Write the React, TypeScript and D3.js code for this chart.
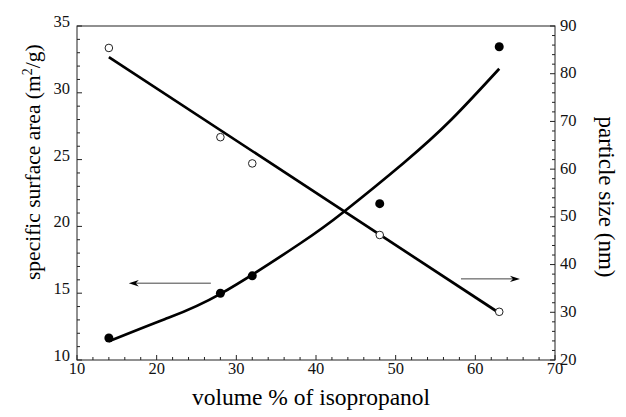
import React from "react";
import * as d3 from "d3";

// ---- data ----
const volumePct = [14, 28, 32, 48, 63];
const surfaceArea = [11.65, 15.0, 16.3, 21.7, 33.45]; // filled circles, left axis (m2/g)
const particleSize = [85.4, 66.7, 61.2, 46.2, 30.1]; // open circles, right axis (nm)

// fitted curve for surface area
const fitAreaX = [14, 21, 28, 38, 43.5, 51, 57, 63];
const fitAreaY = [11.4, 13.05, 14.95, 18.72, 21.1, 24.75, 28.0, 31.8];
// fitted straight line for particle size
const fitSizeX = [14, 63];
const fitSizeY = [83.5, 29.85];

const xTicks = [10, 20, 30, 40, 50, 60, 70];
const leftTicks = [10, 15, 20, 25, 30, 35];
const rightTicks = [20, 30, 40, 50, 60, 70, 80, 90];

// annotation arrows (data coords)
const leftArrow = { from: 26.8, to: 16.5, value: 15.75 };
const rightArrow = { from: 58.2, to: 65.6, value: 37.0 };

const W = 626;
const H = 417;
const L = 77, R = 555, T = 26, B = 360;
const FONT = "'Liberation Serif', 'Times New Roman', Times, serif";

export default function App() {
  const x = d3.scaleLinear().domain([10, 70]).range([L, R]);
  const yL = d3.scaleLinear().domain([10, 35]).range([B, T]);
  const yR = d3.scaleLinear().domain([20, 90]).range([B, T]);

  const xMinor = d3.range(10, 70.001, 2);
  const lMinor = d3.range(10, 35.001, 1);
  const rMinor = d3.range(20, 90.001, 2);

  const areaLine = d3
    .line<number>()
    .x((_, i) => x(fitAreaX[i]))
    .y((d) => yL(d))
    .curve(d3.curveNatural)(fitAreaY) as string;
  const sizeLine = d3
    .line<number>()
    .x((_, i) => x(fitSizeX[i]))
    .y((d) => yR(d))(fitSizeY) as string;

  const arrowHead = (tipX: number, y: number, dir: number) => {
    const len = 10, hw = 3.2, notch = 3;
    return `M${tipX},${y} L${tipX - dir * len},${y - hw} L${tipX - dir * (len - notch)},${y} L${tipX - dir * len},${y + hw} Z`;
  };

  const laY = yL(leftArrow.value);
  const raY = yR(rightArrow.value);
  const axisColor = "#222";

  return (
    <svg
      width={W}
      height={H}
      style={{ position: "absolute", left: 0, top: 0, background: "#fff" }}
      fontFamily={FONT}
    >
      <rect x={0} y={0} width={W} height={H} fill="#fff" />
      {/* frame */}
      <rect x={L} y={T} width={R - L} height={B - T} fill="none" stroke={axisColor} strokeWidth={1} />

      {/* x ticks */}
      {xMinor.map((v) => {
        const major = Math.abs(v % 10) < 1e-6;
        return (
          <line key={"xm" + v} x1={x(v)} x2={x(v)} y1={B} y2={B - (major ? 5 : 3)} stroke={axisColor} strokeWidth={1} />
        );
      })}
      {xTicks.map((v) => (
        <text key={"xt" + v} x={x(v)} y={B + 14} fontSize={16.5} textAnchor="middle" fill="#111">
          {v}
        </text>
      ))}

      {/* left ticks */}
      {lMinor.map((v) => {
        const major = Math.abs(v % 5) < 1e-6;
        return (
          <line key={"lm" + v} x1={L} x2={L + (major ? 5 : 3)} y1={yL(v)} y2={yL(v)} stroke={axisColor} strokeWidth={1} />
        );
      })}
      {leftTicks.map((v) => (
        <text key={"lt" + v} x={70} y={yL(v) + 1} fontSize={16.5} textAnchor="end" fill="#111">
          {v}
        </text>
      ))}

      {/* right ticks */}
      {rMinor.map((v) => {
        const major = Math.abs(v % 10) < 1e-6;
        return (
          <line key={"rm" + v} x1={R} x2={R - (major ? 5 : 3)} y1={yR(v)} y2={yR(v)} stroke={axisColor} strokeWidth={1} />
        );
      })}
      {rightTicks.map((v) => (
        <text key={"rt" + v} x={560} y={yR(v) + 4.5} fontSize={16.5} textAnchor="start" fill="#111">
          {v}
        </text>
      ))}

      {/* fit curves */}
      <path d={areaLine} fill="none" stroke="#000" strokeWidth={2.7} />
      <path d={sizeLine} fill="none" stroke="#000" strokeWidth={2.7} />

      {/* points */}
      {volumePct.map((v, i) => (
        <circle key={"sa" + i} cx={x(v)} cy={yL(surfaceArea[i])} r={4.5} fill="#000" />
      ))}
      {volumePct.map((v, i) => (
        <circle key={"ps" + i} cx={x(v)} cy={yR(particleSize[i])} r={3.8} fill="#fff" stroke="#222" strokeWidth={1} />
      ))}

      {/* arrows */}
      <line x1={x(leftArrow.from)} x2={x(leftArrow.to) + 6} y1={laY} y2={laY} stroke="#444" strokeWidth={1} />
      <path d={arrowHead(x(leftArrow.to), laY, -1)} fill="#000" />
      <line x1={x(rightArrow.from)} x2={x(rightArrow.to) - 6} y1={raY} y2={raY} stroke="#444" strokeWidth={1} />
      <path d={arrowHead(x(rightArrow.to), raY, 1)} fill="#000" />

      {/* axis titles */}
      <text x={311} y={405} fontSize={23.5} textAnchor="middle" fill="#000">
        volume % of isopropanol
      </text>
      <text transform={`translate(40,280) rotate(-90)`} fontSize={21.5} textAnchor="start" fill="#000">
        specific surface area (m<tspan fontSize={14} dy={-8.5}>2</tspan>
        <tspan dy={8.5}>/g)</tspan>
      </text>
      <text transform={`translate(599,197) rotate(90)`} fontSize={23} textAnchor="middle" fill="#000">
        particle size (nm)
      </text>
    </svg>
  );
}
